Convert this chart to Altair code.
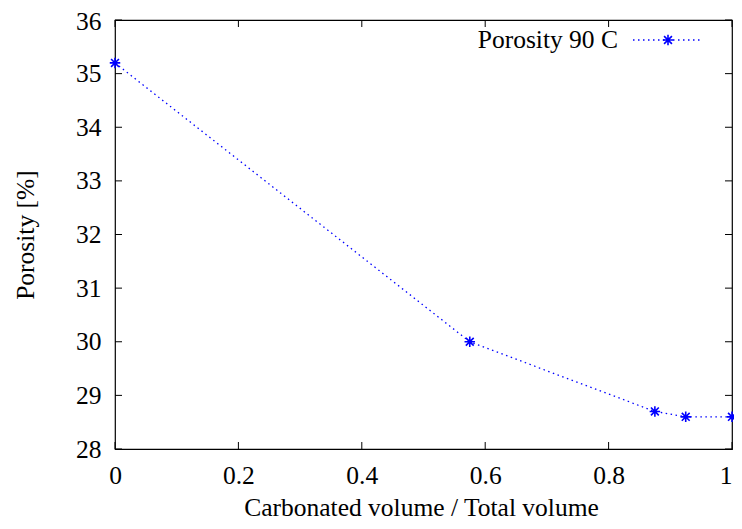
import altair as alt
import pandas as pd

# data
x_vals = [0.0, 0.575, 0.875, 0.925, 1.0]
y_vals = [35.2, 30.0, 28.7, 28.6, 28.6]
x_ticks = [0, 0.2, 0.4, 0.6, 0.8, 1.0]
y_ticks = [28, 29, 30, 31, 32, 33, 34, 35, 36]
series_name = "Porosity 90 C"
x_title = "Carbonated volume / Total volume"
y_title = "Porosity [%]"

W, H = 617, 429
FONT = "Liberation Serif, Times New Roman, Times, DejaVu Serif, serif"
FS = 25.5
BLUE = "#0000ff"
STAR = "M-1,0L1,0M0,-1L0,1M-0.75,-0.75L0.75,0.75M-0.75,0.75L0.75,-0.75"

df = pd.DataFrame({"x": x_vals, "y": y_vals})
xt = pd.DataFrame({"x": x_ticks})
yt = pd.DataFrame({"y": y_ticks})
leg = pd.DataFrame({"name": [series_name]})

xscale = alt.Scale(domain=[0, 1], nice=False, zero=False)
yscale = alt.Scale(domain=[28, 36], nice=False, zero=False)

xaxis = alt.Axis(values=x_ticks, format="~g", title=x_title, labelFlush=False,
                 ticks=False, domain=False, grid=False, labelPadding=14,
                 labelAlign={"expr": "datum.value >= 1 ? 'right' : 'center'"},
                 titleY=66, titleX=306, titleBaseline="alphabetic",
                 labelFont=FONT, labelFontSize=FS, labelColor="black",
                 titleFont=FONT, titleFontSize=FS, titleFontWeight="normal", titleColor="black")
yaxis = alt.Axis(values=y_ticks, format="d", title=y_title, labelFlush=False,
                 ticks=False, domain=False, grid=False, labelPadding=14,
                 labelOffset={"expr": "datum.value >= 36 ? 1.5 : 0"},
                 titleX=-82, titleY=H / 2, titleBaseline="alphabetic",
                 titleAlign="center", titleAngle=270,
                 labelFont=FONT, labelFontSize=FS, labelColor="black",
                 titleFont=FONT, titleFontSize=FS, titleFontWeight="normal", titleColor="black")

X = alt.X("x:Q", scale=xscale, axis=xaxis)
Y = alt.Y("y:Q", scale=yscale, axis=yaxis)

line = alt.Chart(df).mark_line(color=BLUE, strokeWidth=1.3, strokeDash=[1.5, 3.5]).encode(x=X, y=Y)
pts = alt.Chart(df).mark_point(shape=STAR, size=110, filled=False, color=BLUE,
                               strokeWidth=1.6, opacity=1).encode(x=X, y=Y)

tick_len = 7
left_t = alt.Chart(yt).mark_rule(color="black", strokeWidth=1).encode(
    y=Y, x=alt.value(0), x2=alt.value(tick_len))
right_t = alt.Chart(yt).mark_rule(color="black", strokeWidth=1).encode(
    y=Y, x=alt.value(W - tick_len), x2=alt.value(W))
bot_t = alt.Chart(xt).mark_rule(color="black", strokeWidth=1).encode(
    x=X, y=alt.value(H), y2=alt.value(H - tick_len))
top_t = alt.Chart(xt).mark_rule(color="black", strokeWidth=1).encode(
    x=X, y=alt.value(0), y2=alt.value(tick_len))

leg_text = alt.Chart(leg).mark_text(font=FONT, fontSize=FS, align="right",
                                    baseline="alphabetic", color="black").encode(
    text="name:N", x=alt.value(503), y=alt.value(27.5))
leg_line = alt.Chart(leg).mark_rule(color=BLUE, strokeWidth=1.3, strokeDash=[1.5, 3.5]).encode(
    x=alt.value(518), x2=alt.value(587), y=alt.value(20))
leg_pt = alt.Chart(leg).mark_point(shape=STAR, size=110, filled=False, color=BLUE,
                                   strokeWidth=1.6, opacity=1).encode(
    x=alt.value(553), y=alt.value(20))

chart = alt.layer(left_t, right_t, bot_t, top_t, line, pts, leg_line, leg_pt, leg_text).properties(
    width=W, height=H,
    background="white",
    autosize=alt.AutoSizeParams(type="none"),
    padding={"left": 107, "top": 12, "right": 2, "bottom": 72},
).configure_view(stroke="black", strokeWidth=1.2)

chart.save("out.html", embed_options={"renderer": "svg", "actions": False})
